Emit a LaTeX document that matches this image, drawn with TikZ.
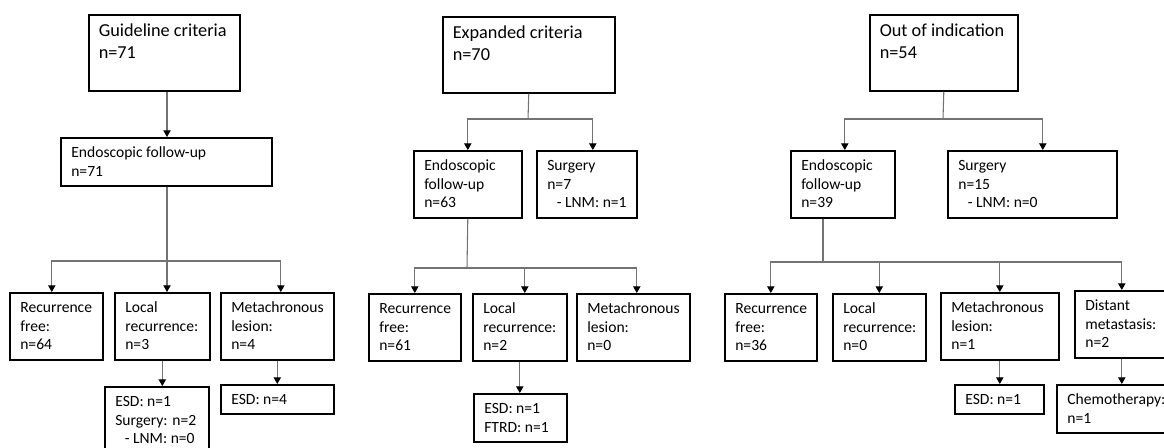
\documentclass[tikz,border=0pt]{standalone}
\usepackage{fontspec}
\setmainfont{Carlito}
\usetikzlibrary{arrows.meta,calc}
\newdimen\px \px=0.75pt
\newcommand\smallf{\fontsize{11.7pt}{14.1pt}\selectfont}
\newcommand\bigf{\fontsize{13.7pt}{16.4pt}\selectfont}
\tikzset{
  boxst/.style={draw=black, line width=1.2pt, inner sep=0pt, anchor=north west, font=\smallf},
  bigbox/.style={boxst, font=\bigf},
  conn/.style={draw=black!55, line width=0.8pt},
  arr/.style={conn, -{Triangle[length=5pt,width=5.5pt,color=black]}},
}
\newcommand\sbx[6]{\node[boxst] (#1) at (#2,#3) {\parbox[t][#5\px][t]{#4\px}{\raggedright\leftskip=10.5\px\rule{0pt}{19.5\px}#6}};}
\newcommand\bbx[6]{\node[bigbox] (#1) at (#2,#3) {\parbox[t][#5\px][t]{#4\px}{\raggedright\leftskip=10\px\rule{0pt}{21.5\px}#6}};}
\newcommand\ind{\hspace*{9.5\px}}
\begin{document}
\begin{tikzpicture}[x=0.75pt,y=-0.75pt]
\useasboundingbox (0,0) rectangle (1164,447);
\fill[white] (0,0) rectangle (1164,447);
\clip (0,0) rectangle (1164,447);
% ---- Guideline criteria
\bbx{gl}{88}{14}{151}{76}{Guideline criteria\\n=71}
\sbx{glE}{60}{137}{211}{48}{Endoscopic follow-up\\n=71}
\sbx{glRF}{9}{292}{93}{67}{Recurrence\\free:\\n=64}
\sbx{glLR}{114}{292}{95}{67}{Local\\recurrence:\\n=3}
\sbx{glMC}{220}{292}{113}{67}{Metachronous\\lesion:\\n=4}
\sbx{glLRt}{104}{386}{104}{70}{ESD: n=1\\Surgery: n=2\\\ind- LNM: n=0}
\sbx{glMCt}{220}{384}{113}{29}{ESD: n=4}
% ---- Expanded criteria
\bbx{ex}{442}{16}{172}{76}{Expanded criteria\\n=70}
\sbx{exE}{413}{150}{108}{67}{Endoscopic\\follow-up\\n=63}
\sbx{exS}{536}{150}{100}{67}{Surgery\\n=7\\\ind- LNM: n=1}
\sbx{exRF}{368}{293}{92}{67}{Recurrence\\free:\\n=61}
\sbx{exLR}{472}{293}{94}{67}{Local\\recurrence:\\n=2}
\sbx{exMC}{576}{293}{113}{67}{Metachronous\\lesion:\\n=0}
\sbx{exLRt}{473}{393}{93}{48}{ESD: n=1\\FTRD: n=1}
% ---- Out of indication
\bbx{oi}{869}{14}{148}{76}{Out of indication\\n=54}
\sbx{oiE}{790}{150}{104}{67}{Endoscopic\\follow-up\\n=39}
\sbx{oiS}{947}{150}{169}{67}{Surgery\\n=15\\\ind- LNM: n=0}
\sbx{oiRF}{724}{293}{92}{67}{Recurrence\\free:\\n=36}
\sbx{oiLR}{832}{293}{93}{67}{Local\\recurrence:\\n=0}
\sbx{oiMC}{940}{292}{118}{67}{Metachronous\\lesion:\\n=1}
\sbx{oiDM}{1074}{290}{94}{67}{Distant\\metastasis:\\n=2}
\sbx{oiMCt}{954}{384}{89}{29}{ESD: n=1}
\sbx{oiDMt}{1056}{384}{130}{48}{Chemotherapy:\\n=1}
% ---- connectors: guideline
\coordinate (j1) at (167,261);
\draw[arr] (gl.south -| j1) -- (glE.north -| j1);
\draw[conn] (glE.south -| j1) -- (j1);
\draw[arr] (j1) -| ($(glRF.north)+(-4.5,0)$);
\draw[arr] (j1) -- (glLR.north -| j1);
\draw[arr] (j1) -| ($(glMC.north)+(3.5,0)$);
\draw[arr] (glLR.south) -- (glLR.south |- glLRt.north);
\draw[arr] (glMC.south) -- (glMC.south |- glMCt.north);
% ---- connectors: expanded
\coordinate (j2) at (528,119);
\draw[conn] (ex.south) -- (j2);
\draw[arr] (j2) -| (exE.north);
\draw[arr] (j2) -| ($(exS.north)+(6,0)$);
\coordinate (j3) at (467,268);
\draw[conn] (exE.south) -- (j3);
\draw[arr] (j3) -| (exRF.north);
\draw[arr] (j3) -| ($(exLR.north)+(5,0)$);
\draw[arr] (j3) -| ($(exMC.north)+(3.5,0)$);
\draw[arr] (exLR.south) -- (exLR.south |- exLRt.north);
% ---- connectors: out of indication
\coordinate (j4) at (943,119);
\draw[conn] (oi.south) -- (j4);
\draw[arr] (j4) -| ($(oiE.north)+(2,0)$);
\draw[arr] (j4) -| ($(oiS.north)+(10.5,0)$);
\coordinate (j5) at (823,262);
\draw[conn] (oiE.south -| j5) -- (j5);
\draw[arr] (j5) -| (oiRF.north);
\draw[arr] (j5) -| (oiLR.north);
\draw[arr] (j5) -| (oiMC.north);
\draw[arr] (j5) -| (oiDM.north);
\draw[arr] (oiMC.south) -- (oiMC.south |- oiMCt.north);
\draw[arr] (oiDM.south) -- (oiDMt.north);
\end{tikzpicture}
\end{document}
